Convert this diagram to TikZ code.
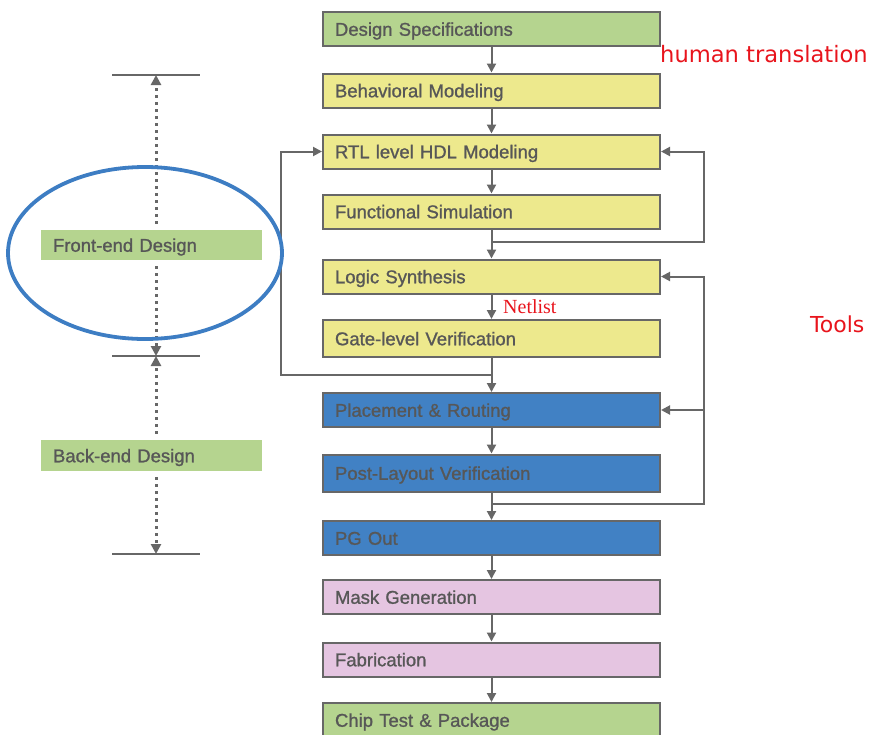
\documentclass[tikz,border=0pt]{standalone}
\usepackage{fontspec}
\setmainfont{Liberation Sans}
\newfontfamily\stagefont{Liberation Sans}[FakeBold=1.1]
\newfontfamily\notesans{DejaVu Sans}
\newfontfamily\noteserif{Liberation Serif}
\usetikzlibrary{arrows.meta,calc}
\definecolor{boxgreen}{HTML}{B5D48F}
\definecolor{boxyellow}{HTML}{EDE98D}
\definecolor{boxblue}{HTML}{4181C4}
\definecolor{boxpink}{HTML}{E5C5E1}
\definecolor{edgegray}{HTML}{676767}
\definecolor{textgray}{HTML}{575757}
\definecolor{ringblue}{HTML}{3D7DC3}
\definecolor{notered}{HTML}{E8141C}
\begin{document}
\begin{tikzpicture}[x=1pt,y=-1pt,
  stage/.style={draw=edgegray, line width=2pt, rectangle, minimum height=34pt,
    text width=313pt, inner xsep=12pt, inner ysep=0pt, align=left,
    text height=13.5pt, text depth=0pt,
    text=textgray, font=\stagefont\fontsize{18.5}{20}\selectfont},
  phase/.style={fill=boxgreen, rectangle, minimum height=30pt, text width=197pt,
    inner xsep=12pt, inner ysep=0pt, align=left, text=textgray,
    text height=13.5pt, text depth=0pt,
    font=\stagefont\fontsize{18.5}{20}\selectfont},
  flow/.style={draw=edgegray, line width=2pt, -{Triangle[length=9pt,width=9pt]}},
  dimline/.style={draw=edgegray, line width=3pt, dash pattern=on 3pt off 4pt,
    -{Triangle[length=10pt,width=10pt]}},
  tickline/.style={draw=edgegray, line width=1.8pt},
  note/.style={text=notered, inner sep=0pt, anchor=base west}
]
\useasboundingbox (0,0) rectangle (872,734);

% ---- main flow ----
\node[stage, fill=boxgreen]  (spec) at (491.5,29)    {Design Specifications};
\node[stage, fill=boxyellow] (beh)  at (491.5,90.5)  {Behavioral Modeling};
\node[stage, fill=boxyellow] (rtl)  at (491.5,151.5) {RTL level HDL Modeling};
\node[stage, fill=boxyellow] (fsim) at (491.5,211.5) {Functional Simulation};
\node[stage, fill=boxyellow] (syn)  at (491.5,276.5) {Logic Synthesis};
\node[stage, fill=boxyellow, minimum height=37pt] (glv) at (491.5,338.5) {Gate-level Verification};
\node[stage, fill=boxblue]   (pr)   at (491.5,410)   {Placement \& Routing};
\node[stage, fill=boxblue, minimum height=37pt] (plv) at (491.5,473) {Post-Layout Verification};
\node[stage, fill=boxblue]   (pg)   at (491.5,538)   {PG Out};
\node[stage, fill=boxpink]   (mask) at (491.5,597)   {Mask Generation};
\node[stage, fill=boxpink]   (fab)  at (491.5,659.5) {Fabrication};
\node[stage, fill=boxgreen]  (chip) at (491.5,720)   {Chip Test \& Package};

\draw[flow] (spec) -- (beh);
\draw[flow] (beh)  -- (rtl);
\draw[flow] (rtl)  -- (fsim);
\draw[flow] (fsim) -- (syn);
\draw[flow] (syn)  -- (glv);
\draw[flow] (glv)  -- (pr);
\draw[flow] (pr)   -- (plv);
\draw[flow] (plv)  -- (pg);
\draw[flow] (pg)   -- (mask);
\draw[flow] (mask) -- (fab);
\draw[flow] (fab)  -- (chip);

\node[note, font=\noteserif\fontsize{20}{22}\selectfont] (netlist) at (503,313) {Netlist};

% ---- feedback loops ----
\coordinate (jfs)  at (491.5,242);
\coordinate (jgl)  at (491.5,375);
\coordinate (jpl)  at (491.5,504);
\coordinate (rfs)  at (704,242);
\coordinate (rpl)  at (704,504);
\coordinate (lgl)  at (281,375);
\coordinate (rpr)  at (704,410);

\draw[flow] (jfs) -- (rfs) |- (rtl.east);
\draw[flow] (jgl) -- (lgl) |- (rtl.west);
\draw[flow] (jpl) -- (rpl) |- (syn.east);
\draw[flow] (rpr) -- (pr.east);

% ---- design phases ----
\coordinate (ttop) at (156,75);
\coordinate (tmid) at (156,356);
\coordinate (tbot) at (156,554);

\draw[tickline] (112,75)  -- (200,75);
\draw[tickline] (112,356) -- (200,356);
\draw[tickline] (112,554) -- (200,554);

\node[phase] (front) at (151.5,245)   {Front-end Design};
\node[phase, minimum height=31pt] (back) at (151.5,455.5) {Back-end Design};

\draw[dimline] ($(front.north -| ttop)+(0,-6)$) -- (ttop);
\draw[dimline] ($(front.south -| tmid)+(0,6)$)  -- (tmid);
\draw[dimline] ($(back.north -| tmid)+(0,-6)$)  -- (tmid);
\draw[dimline] ($(back.south -| tbot)+(0,6)$)   -- (tbot);

\draw[ringblue, line width=3.8pt] (145,253) ellipse [x radius=137, y radius=86];

% ---- side notes ----
\node[note, font=\notesans\fontsize{22.6}{24}\selectfont] (human) at (660,62)  {human translation};
\node[note, font=\notesans\fontsize{22}{24}\selectfont]   (tools) at (810,332) {Tools};
\end{tikzpicture}
\end{document}
